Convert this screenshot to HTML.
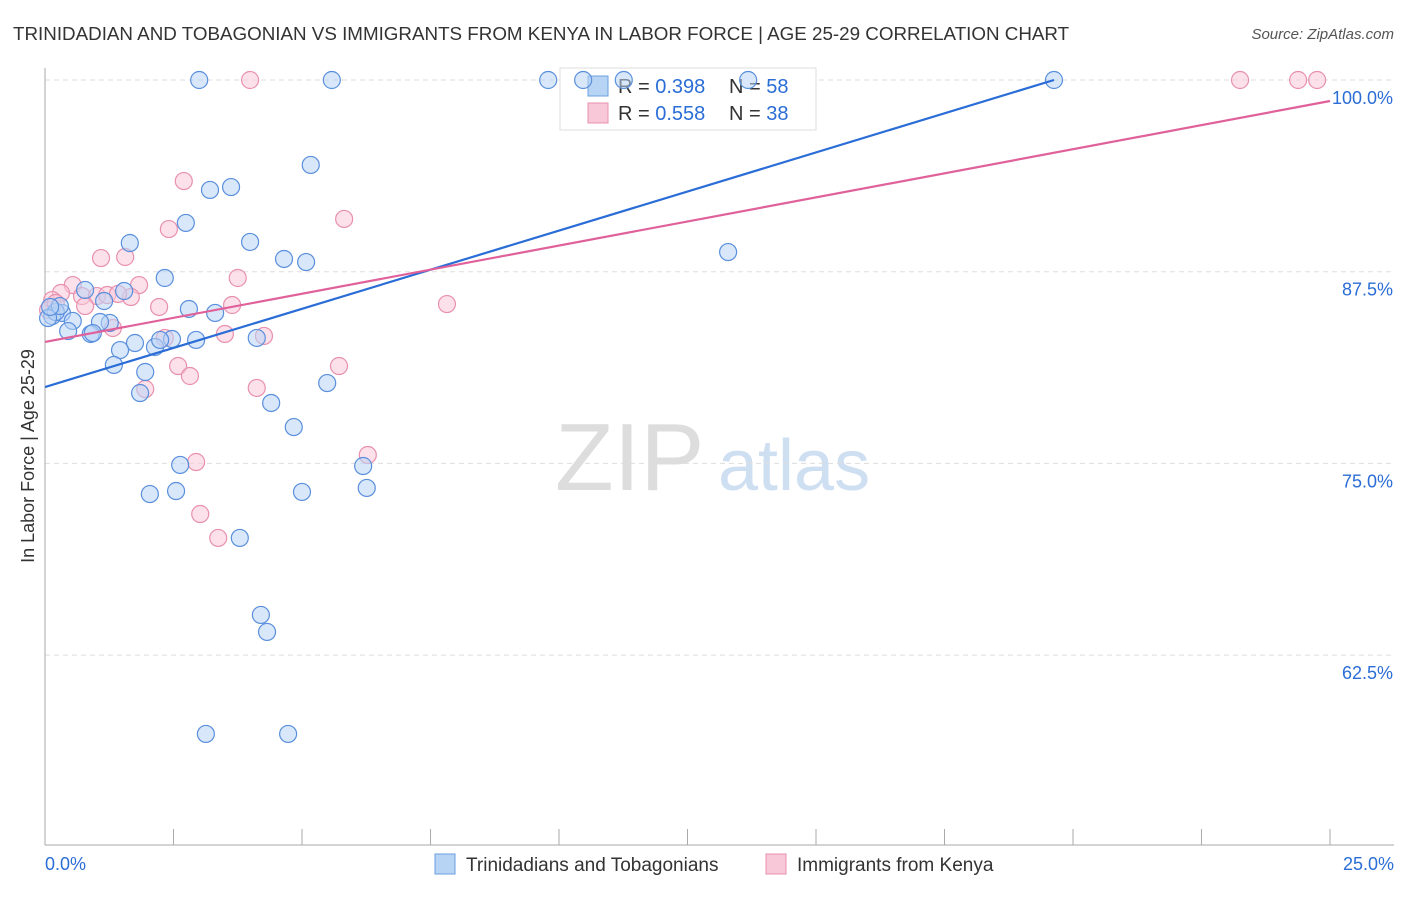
<!DOCTYPE html>
<html><head><meta charset="utf-8"><style>
body{margin:0;background:#fff;font-family:"Liberation Sans",sans-serif}
svg text{font-family:"Liberation Sans",sans-serif}
</style></head><body>
<svg id="c" width="1406" height="892">
<text x="13" y="40" font-size="18.8" fill="#333">TRINIDADIAN AND TOBAGONIAN VS IMMIGRANTS FROM KENYA IN LABOR FORCE | AGE 25-29 CORRELATION CHART</text>
<text x="1394" y="39" font-size="15" fill="#555" font-style="italic" text-anchor="end">Source: ZipAtlas.com</text>
<text x="34" y="456" font-size="18" fill="#333" transform="rotate(-90 34 456)" text-anchor="middle">In Labor Force | Age 25-29</text>
<text x="555" y="490" font-size="96" fill="#ddd" font-family="Liberation Serif">ZIP</text>
<text x="718" y="490" font-size="72" fill="#cfdff2">atlas</text>
<g id="grid"></g>
<g>
<rect x="560" y="68" width="256" height="62" fill="#fff" stroke="#ddd"/>
<rect x="588" y="76" width="20" height="20" fill="#b8d4f5" stroke="#6a9fe0"/>
<rect x="588" y="103" width="20" height="20" fill="#f9c8d8" stroke="#e890ae"/>
<text x="618" y="93" font-size="20" fill="#333">R = <tspan fill="#2a6dd6">0.398</tspan></text>
<text x="729" y="93" font-size="20" fill="#333">N = <tspan fill="#2a6dd6">58</tspan></text>
<text x="618" y="120" font-size="20" fill="#333">R = <tspan fill="#2a6dd6">0.558</tspan></text>
<text x="729" y="120" font-size="20" fill="#333">N = <tspan fill="#2a6dd6">38</tspan></text>
</g>
<g id="pts"></g><g id="lines"></g>
<g>
<rect x="435" y="854" width="20" height="20" fill="#b8d4f5" stroke="#6a9fe0"/>
<text x="466" y="871" font-size="19" fill="#333">Trinidadians and Tobagonians</text>
<rect x="766" y="854" width="20" height="20" fill="#f9c8d8" stroke="#e890ae"/>
<text x="797" y="871" font-size="19" fill="#333">Immigrants from Kenya</text>
</g>
</svg>
<script>
const yTicks=[100,87.5,75,62.5];
const yTickLabels=["100.0%","87.5%","75.0%","62.5%"];
const xTickLabels=["0.0%","25.0%"];
const blueX=[3.00,5.58,9.79,10.47,11.26,13.68,19.63,5.17,3.21,3.62,2.74,1.65,3.99,4.65,5.08,13.29,2.33,0.78,1.54,1.15,2.80,3.31,0.33,0.14,0.54,1.26,1.07,0.45,0.89,0.93,1.75,1.46,2.14,2.47,2.24,2.94,4.12,1.34,1.95,1.85,5.49,4.40,4.84,2.63,6.19,2.04,2.55,5.00,6.26,3.79,4.20,4.32,3.13,4.73,0.21,0.06,0.29,0.10];
const blueY=[100,100,100,100,100,100,100,94.46,92.83,93.02,90.68,89.37,89.44,88.33,88.13,88.78,87.09,86.31,86.24,85.59,85.07,84.81,84.81,84.61,84.29,84.16,84.22,83.63,83.44,83.50,82.85,82.39,82.59,83.11,83.05,83.05,83.18,81.42,80.96,79.59,80.24,78.94,77.37,74.90,74.83,73.00,73.20,73.14,73.40,70.14,65.12,64.01,57.36,57.36,84.87,84.48,85.26,85.20];
const pinkX=[3.99,23.25,24.38,24.75,2.70,5.82,2.41,1.09,1.56,3.75,0.54,1.83,0.31,0.72,1.01,1.21,1.67,1.42,2.22,3.64,7.82,3.50,4.26,1.32,2.33,2.59,5.72,2.82,4.12,1.95,2.94,6.28,3.02,3.37,0.14,0.06,0.78,0.21];
const pinkY=[100,100,100,100,93.41,90.94,90.28,88.39,88.46,87.09,86.63,86.63,86.11,85.91,85.91,85.98,85.85,86.05,85.20,85.33,85.39,83.44,83.31,83.83,83.18,81.35,81.35,80.70,79.92,79.85,75.09,75.55,71.70,70.14,85.65,85.00,85.26,85.46];
const blueLine=[[0,79.98],[19.63,100]];
const pinkLine=[[0,82.92],[25,98.63]];
const X=v=>45+v/25*1285, Y=v=>80+(100-v)/12.5*191.7;
const NS="http://www.w3.org/2000/svg";
function mk(t,a,p){const e=document.createElementNS(NS,t);for(const k in a)e.setAttribute(k,a[k]);document.getElementById(p).appendChild(e);return e;}
yTicks.forEach((t,i)=>{
 const l=mk('line',{x1:45,x2:1394,y1:Y(t),y2:Y(t),stroke:'#ddd','stroke-dasharray':'5,4'},'grid');
 
 
 const tx=mk('text',{x:1393,y:Y(t)+24,'font-size':18,fill:'#2a6dd6','text-anchor':'end'},'grid');
 tx.textContent=yTickLabels[i];
 
 
});
const ax=mk('line',{x1:45,x2:45,y1:68,y2:845,stroke:'#aaa'},'grid');


const bx=mk('line',{x1:45,x2:1394,y1:845,y2:845,stroke:'#aaa'},'grid');


for(let i=1;i<=10;i++){const t=mk('line',{x1:X(i*2.5),x2:X(i*2.5),y1:829,y2:845,stroke:'#aaa'},'grid');
 
 }
[[0,'start',45],[25,'end',1394]].forEach((d,i)=>{const t=mk('text',{x:d[2],y:870,'font-size':18,fill:'#2a6dd6','text-anchor':d[1]},'grid');t.textContent=xTickLabels[i];
 
 });
function pts(xs,ys,f,s,n){xs.forEach((x,i)=>{const c=mk('circle',{cx:X(x),cy:Y(ys[i]),r:8.5,fill:f,'fill-opacity':0.55,stroke:s,'stroke-width':1.2},'pts');
 
 });}
pts(pinkX,pinkY,'#f9c8d8','#e890ae','kenya-point');
pts(blueX,blueY,'#b8d4f5','#5a8fdc','trinidadian-point');
const bl=mk('line',{x1:X(blueLine[0][0]),y1:Y(blueLine[0][1]),x2:X(blueLine[1][0]),y2:Y(blueLine[1][1]),stroke:'#2a6dd6','stroke-width':2.2},'lines');


const pl=mk('line',{x1:X(pinkLine[0][0]),y1:Y(pinkLine[0][1]),x2:X(pinkLine[1][0]),y2:Y(pinkLine[1][1]),stroke:'#e0609a','stroke-width':2.2},'lines');


</script>
</body></html>
